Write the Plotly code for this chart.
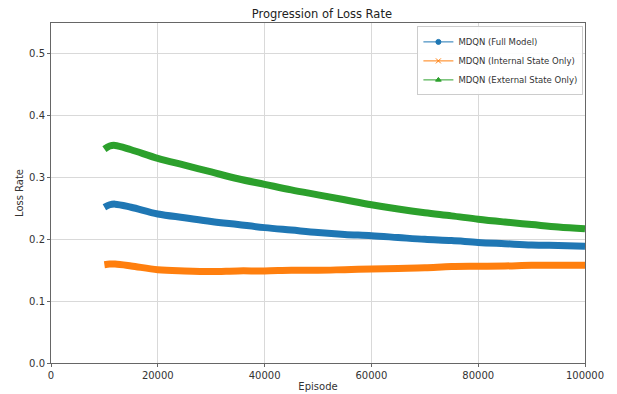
import plotly.graph_objects as go

episodes = [10000, 11000, 12000, 15000, 20000, 25000, 30000, 35000, 40000, 45000, 50000,
            55000, 60000, 65000, 70000, 75000, 80000, 85000, 90000, 95000, 100000]
full_model = [0.252, 0.256, 0.257, 0.252, 0.241, 0.235, 0.229, 0.224, 0.219, 0.215, 0.211,
              0.208, 0.206, 0.203, 0.200, 0.198, 0.195, 0.193, 0.191, 0.190, 0.189]
internal_only = [0.159, 0.160, 0.160, 0.157, 0.151, 0.149, 0.148, 0.149, 0.149, 0.150, 0.150,
                 0.151, 0.152, 0.153, 0.154, 0.156, 0.1565, 0.157, 0.158, 0.158, 0.158]
external_only = [0.346, 0.351, 0.352, 0.345, 0.331, 0.320, 0.309, 0.298, 0.289, 0.280, 0.272,
                 0.264, 0.256, 0.249, 0.243, 0.238, 0.2325, 0.228, 0.224, 0.220, 0.217]

names = ["MDQN (Full Model)", "MDQN (Internal State Only)", "MDQN (External State Only)"]
colors = ["#1f77b4", "#ff7f0e", "#2ca02c"]
symbols = ["circle", "x-thin", "triangle-up"]
series = [full_model, internal_only, external_only]

fig = go.Figure()
for vals, c in zip(series, colors):
    fig.add_trace(go.Scatter(x=episodes, y=vals, mode="lines",
                             line=dict(color=c, width=7, shape="spline"),
                             showlegend=False, hoverinfo="skip"))
for name, c, s in zip(names, colors, symbols):
    fig.add_trace(go.Scatter(x=[None], y=[None], mode="lines+markers", name=name,
                             line=dict(color=c, width=1),
                             marker=dict(color=c, symbol=s, size=5,
                                         line=dict(color=c, width=1))))

# the page body has an 8px margin, so the figure is drawn 8px smaller on each side
font = "DejaVu Sans, Liberation Sans, sans-serif"
fig.update_layout(
    width=609, height=386,
    margin=dict(l=43, r=32, t=15, b=31, autoexpand=False),
    paper_bgcolor="white", plot_bgcolor="white",
    font=dict(family=font, size=10, color="#333"),
    title=dict(text="Progression of Loss Rate", x=0.5154, xanchor="center",
               y=0.9855, yanchor="middle", font=dict(size=11.5, color="#222"),
               automargin=False),
    legend=dict(x=0.997, y=0.99, xanchor="right", yanchor="top",
                bgcolor="rgba(255,255,255,0.9)", bordercolor="#ccc", borderwidth=1,
                font=dict(size=8.5, color="#333"), itemwidth=30, tracegroupgap=0),
)
fig.update_xaxes(range=[0, 100000], tickvals=[0, 20000, 40000, 60000, 80000, 100000],
                 ticktext=["0", "20000", "40000", "60000", "80000", "100000"],
                 automargin=False,
                 showgrid=True, gridcolor="#d9d9d9", gridwidth=1,
                 showline=True, linecolor="#666", linewidth=1, mirror=True,
                 ticks="outside", ticklen=3, tickcolor="#666", zeroline=False,
                 title=dict(text="Episode", standoff=2, font=dict(size=10)))
fig.update_yaxes(range=[0, 0.55], tickvals=[0, 0.1, 0.2, 0.3, 0.4, 0.5],
                 ticktext=["0.0", "0.1", "0.2", "0.3", "0.4", "0.5"],
                 automargin=False,
                 showgrid=True, gridcolor="#d9d9d9", gridwidth=1,
                 showline=True, linecolor="#666", linewidth=1, mirror=True,
                 ticks="outside", ticklen=3, tickcolor="#666", zeroline=False,
                 title=dict(text="Loss Rate", standoff=3, font=dict(size=10)))

fig.write_html("out.html")
